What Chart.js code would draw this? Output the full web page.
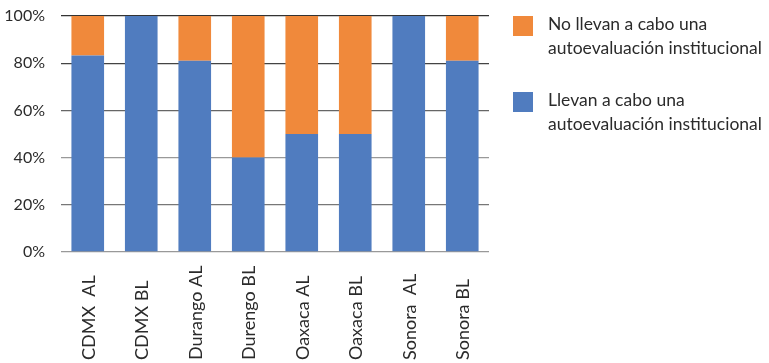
<!DOCTYPE html>
<html>
<head>
<meta charset="utf-8">
<script src="https://cdn.jsdelivr.net/npm/chart.js@4"></script>
<style>
  html, body { margin: 0; padding: 0; background: #fff; }
  #wrap { width: 769px; height: 363px; position: relative; }
</style>
</head>
<body>
<div id="wrap"><canvas id="chart"></canvas></div>
<script>
// Datos (porcentajes)
const categorias = ['CDMX  AL', 'CDMX BL', 'Durango AL', 'Durengo BL', 'Oaxaca AL', 'Oaxaca BL', 'Sonora  AL', 'Sonora BL'];
const llevan = [83.3, 100, 81, 40, 50, 50, 100, 81];
const noLlevan = [16.7, 0, 19, 60, 50, 50, 0, 19];
const etiquetaLlevan = ['Llevan a cabo una', 'autoevaluación institucional'];
const etiquetaNoLlevan = ['No llevan a cabo una', 'autoevaluación institucional'];
const ticksY = [0, 20, 40, 60, 80, 100];

const AZUL = '#507CBF';
const NARANJA = '#F0893B';
const TEXTO = '#2b2b2b';
const FUENTE = 'Lato, "Open Sans", sans-serif';

// Etiquetas del eje X giradas, alineadas por abajo
const xLabelsPlugin = {
    id: 'xLabels',
    afterDraw(chart) {
        const ctx = chart.ctx;
        const x = chart.scales.x;
        ctx.save();
        ctx.fillStyle = TEXTO;
        ctx.font = '18px ' + FUENTE;
        ctx.textAlign = 'left';
        ctx.textBaseline = 'middle';
        categorias.forEach((c, i) => {
            const px = x.getPixelForTick(i);
            ctx.save();
            ctx.translate(px + 1, 360);
            ctx.rotate(-Math.PI / 2);
            ctx.fillText(c, 0, 0);
            ctx.restore();
        });
        ctx.restore();
    }
};

// Leyenda a la derecha con texto en dos líneas
const legendPlugin = {
    id: 'legendRight',
    afterDraw(chart) {
        const ctx = chart.ctx;
        const items = [
            { color: NARANJA, lines: etiquetaNoLlevan, top: 16 },
            { color: AZUL, lines: etiquetaLlevan, top: 92 }
        ];
        ctx.save();
        ctx.font = '17.5px ' + FUENTE;
        ctx.textBaseline = 'alphabetic';
        ctx.textAlign = 'left';
        items.forEach(it => {
            ctx.fillStyle = it.color;
            ctx.fillRect(513, it.top, 20, 20);
            ctx.fillStyle = TEXTO;
            it.lines.forEach((l, j) => {
                ctx.fillText(l, 548, it.top + 14 + j * 24);
            });
        });
        ctx.restore();
    }
};

const gridColors = { 0: '#999999', 20: '#777777', 40: '#999999', 60: '#666666', 80: '#444444', 100: '#333333' };

new Chart(document.getElementById('chart'), {
    type: 'bar',
    data: {
        labels: categorias,
        datasets: [
            {
                label: etiquetaLlevan.join(' '),
                data: llevan,
                backgroundColor: AZUL,
                categoryPercentage: 0.61,
                barPercentage: 1
            },
            {
                label: etiquetaNoLlevan.join(' '),
                data: noLlevan,
                backgroundColor: NARANJA,
                categoryPercentage: 0.61,
                barPercentage: 1
            }
        ]
    },
    options: {
        responsive: true,
        maintainAspectRatio: false,
        animation: false,
        layout: { padding: { top: 16, right: 280, bottom: 0, left: 0 } },
        plugins: {
            legend: { display: false },
            tooltip: { enabled: false }
        },
        scales: {
            x: {
                stacked: true,
                grid: { display: false },
                border: { display: false },
                ticks: { display: false },
                afterFit(scale) { scale.height = 111; }
            },
            y: {
                stacked: true,
                min: 0,
                max: 100,
                afterBuildTicks(scale) { scale.ticks = ticksY.map(v => ({ value: v })); },
                afterFit(scale) {
                    scale.width = 61;
                    scale.paddingTop = 0;
                    scale.paddingBottom = 0;
                },
                border: { display: false },
                grid: {
                    drawTicks: false,
                    lineWidth: 1.3,
                    color: ctx => gridColors[ctx.tick ? ctx.tick.value : 0] || '#888'
                },
                ticks: {
                    padding: 16,
                    color: TEXTO,
                    font: { family: FUENTE, size: 16 },
                    callback: v => v + '%'
                }
            }
        }
    },
    plugins: [xLabelsPlugin, legendPlugin]
});
</script>
</body>
</html>
